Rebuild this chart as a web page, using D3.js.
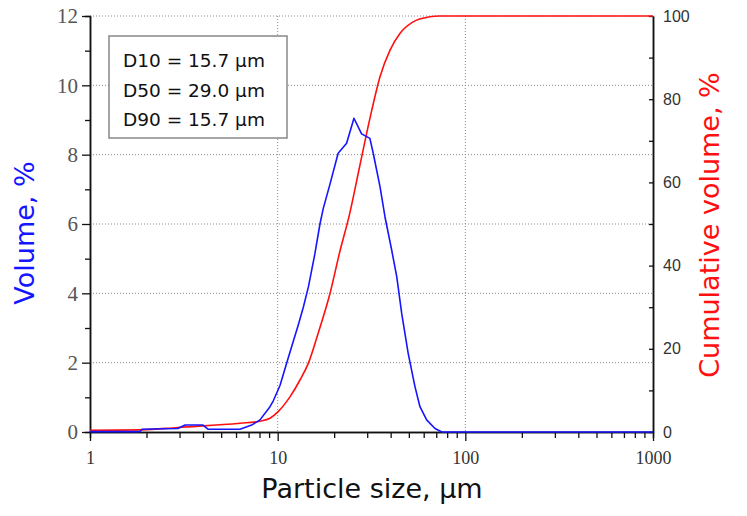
<!DOCTYPE html>
<html>
<head>
<meta charset="utf-8">
<script src="https://cdn.jsdelivr.net/npm/d3@7"></script>
<style>
  body { margin: 0; background: #fff; }
  svg { display: block; }
</style>
</head>
<body>
<div id="chart"></div>
<script>
// particle size distribution: volume % (blue, left) and cumulative % (red, right)

var sizeVol = [1, 1.85, 1.89, 2.94, 3.21, 4.0, 4.25, 6.3, 7.27, 8.05, 9.1, 9.48, 10.3, 11.4, 12.9, 13.7, 14.6, 15.8, 16.8, 17.5, 19.0,
               21.0, 23.3, 25.5, 28.0, 31.0, 32.3, 35.1, 37.3, 40.5, 43.1, 45.8, 49.6, 53.9, 57.3, 62.2, 68.9, 75.0, 1000];
var volume  = [0.01, 0.01, 0.08, 0.1, 0.2, 0.2, 0.08, 0.08, 0.2, 0.35, 0.73, 0.9, 1.35, 2.15, 3.1, 3.6, 4.2, 5.15, 6.0, 6.45, 7.15,
               8.04, 8.33, 9.05, 8.6, 8.47, 8.04, 7.08, 6.21, 5.25, 4.48, 3.42, 2.27, 1.31, 0.73, 0.35, 0.1, 0, 0];

var sizeCum = [1, 1.89, 2.94, 6.3, 8.05, 9.1, 10.06, 11.65, 13.15, 14.56, 16.42, 19.0, 21.4, 24.2, 27.4, 31.6, 35.1, 39.7,
               44.8, 52.7, 64.5, 73, 1000];
var cumulative = [0.4, 0.5, 1.1, 2.1, 2.6, 3.3, 4.9, 8.5, 12.5, 16.5, 23.7, 33.3, 43.2, 52.5, 64, 77, 85.4, 91.8,
                  95.8, 98.6, 99.8, 100, 100];

var xMajor = [1, 10, 100, 1000];
var yLeftTicks = [0, 2, 4, 6, 8, 10, 12];
var yRightTicks = [0, 20, 40, 60, 80, 100];
var legendLines = ["D10 = 15.7 µm", "D50 = 29.0 µm", "D90 = 15.7 µm"];

var width = 747, height = 516;
var x0 = 90, x1 = 653, y0 = 432, y1 = 16;   // plot edges

var x = d3.scaleLog().domain([1, 1000]).range([x0, x1]);
var yL = d3.scaleLinear().domain([0, 12]).range([y0, y1]);
var yR = d3.scaleLinear().domain([0, 100]).range([y0, y1]);

var xMinor = [];
for (var d = 1; d < 1000; d *= 10)
    for (var k = 2; k <= 9; k++) xMinor.push(d * k);

var svg = d3.select("#chart").append("svg")
    .attr("width", width).attr("height", height);

// grid
svg.append("g").selectAll("line").data([2, 4, 6, 8, 10, 12]).join("line")
    .attr("x1", x0).attr("x2", x1)
    .attr("y1", d => yL(d)).attr("y2", d => yL(d))
    .attr("stroke", "#8a8a8a").attr("stroke-width", 1).attr("stroke-dasharray", "1,2");
svg.append("g").selectAll("line").data([10, 100]).join("line")
    .attr("x1", d => x(d)).attr("x2", d => x(d))
    .attr("y1", y1).attr("y2", y0)
    .attr("stroke", "#8a8a8a").attr("stroke-width", 1).attr("stroke-dasharray", "1,2");

// axes
function styleAxis(g, font, size, color) {
    g.select(".domain").attr("stroke", "#111").attr("stroke-width", 1.5);
    g.selectAll(".tick line").attr("stroke", "#111").attr("stroke-width", 1.3);
    g.selectAll("text").attr("font-family", font).attr("font-size", size).attr("fill", color);
}

svg.append("g").attr("transform", "translate(0," + y0 + ")")
    .call(d3.axisBottom(x).tickValues(xMinor).tickSize(6).tickFormat(""))
    .call(g => styleAxis(g, "Liberation Serif", 18, "#333"));
svg.append("g").attr("transform", "translate(0," + y0 + ")")
    .call(d3.axisBottom(x).tickValues(xMajor).tickSize(9).tickSizeOuter(0).tickPadding(10).tickFormat(d3.format("d")))
    .call(g => styleAxis(g, "Liberation Serif", 18, "#333"));

svg.append("g").attr("transform", "translate(" + x0 + ",0)")
    .call(d3.axisLeft(yL).tickValues([1, 3, 5, 7, 9, 11]).tickSize(5).tickFormat(""))
    .call(g => styleAxis(g, "Liberation Serif", 21, "#555"));
svg.append("g").attr("transform", "translate(" + x0 + ",0)")
    .call(d3.axisLeft(yL).tickValues(yLeftTicks).tickSize(8).tickSizeOuter(0).tickPadding(4))
    .call(g => styleAxis(g, "Liberation Serif", 21, "#555"));

svg.append("g").attr("transform", "translate(" + x1 + ",0)")
    .call(d3.axisRight(yR).tickValues([10, 30, 50, 70, 90]).tickSizeInner(-4).tickSizeOuter(0).tickFormat(""))
    .call(g => styleAxis(g, "Liberation Sans", 16, "#333"));
svg.append("g").attr("transform", "translate(" + x1 + ",0)")
    .call(d3.axisRight(yR).tickValues(yRightTicks).tickSizeInner(-4).tickSizeOuter(0).tickPadding(10))
    .call(g => styleAxis(g, "Liberation Sans", 16, "#333"));

// curves
var volLine = d3.line().x(d => x(d[0])).y(d => yL(d[1]));
var cumLine = d3.line().x(d => x(d[0])).y(d => yR(d[1])).curve(d3.curveMonotoneX);

svg.append("path")
    .attr("d", cumLine(d3.zip(sizeCum, cumulative)))
    .attr("fill", "none").attr("stroke", "#ff1010").attr("stroke-width", 1.6);
svg.append("path")
    .attr("d", volLine(d3.zip(sizeVol, volume)))
    .attr("fill", "none").attr("stroke", "#1515ff").attr("stroke-width", 1.6)
    .attr("stroke-linejoin", "round");

// legend box
var lg = svg.append("g");
lg.append("rect").attr("x", 109).attr("y", 36).attr("width", 178).attr("height", 102)
    .attr("fill", "#fff").attr("stroke", "#888").attr("stroke-width", 1.5);
lg.selectAll("text").data(legendLines).join("text")
    .attr("x", 123).attr("y", (d, i) => 67 + i * 29.5)
    .attr("font-family", "DejaVu Sans").attr("font-size", 18.5).attr("fill", "#111")
    .text(d => d);

// titles
svg.append("text")
    .attr("transform", "translate(34,233) rotate(-90)")
    .attr("text-anchor", "middle")
    .attr("font-family", "DejaVu Sans").attr("font-size", 27).attr("fill", "#1515ff")
    .text("Volume, %");
svg.append("text")
    .attr("transform", "translate(719,225) rotate(-90)")
    .attr("text-anchor", "middle")
    .attr("font-family", "DejaVu Sans").attr("font-size", 27).attr("fill", "#ff1010")
    .text("Cumulative volume, %");
svg.append("text")
    .attr("x", 372).attr("y", 498)
    .attr("text-anchor", "middle")
    .attr("font-family", "DejaVu Sans").attr("font-size", 27).attr("fill", "#111")
    .text("Particle size, µm");
</script>
</body>
</html>
